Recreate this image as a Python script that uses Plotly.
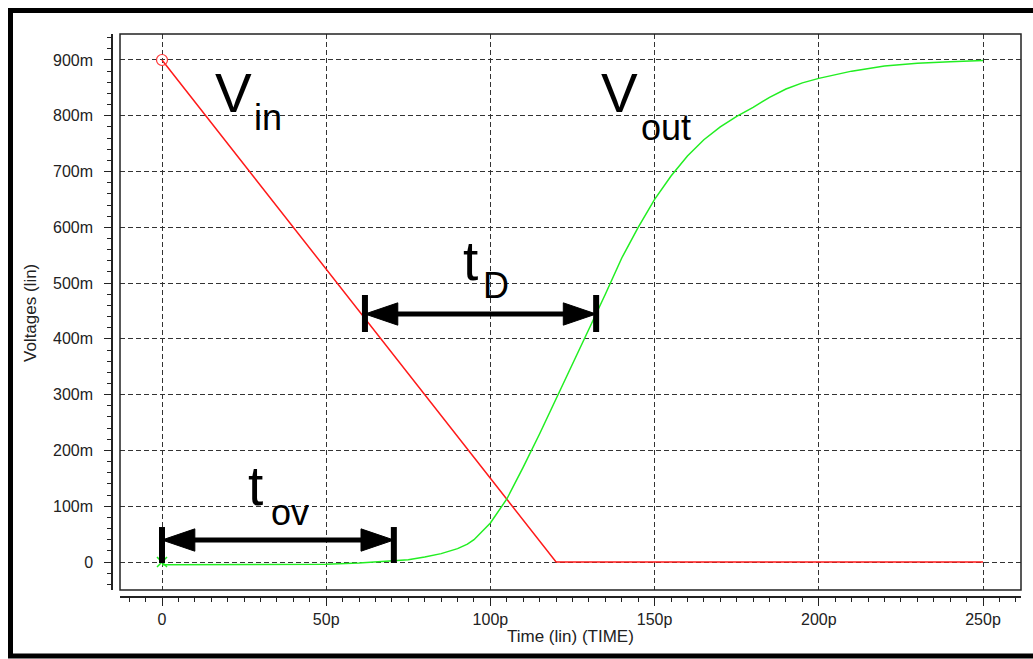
import plotly.graph_objects as go

# ---------------- data (time in ps, voltage in mV) ----------------
vin_t = [0, 120, 250]
vin_v = [900, 0, 0]

vout_t = [0, 10, 20, 30, 40, 50, 60, 66, 70, 75, 80, 85, 90, 93, 95, 100, 105, 110, 115,
          120, 125, 130, 135, 140, 145, 150, 155, 160, 165, 170, 175, 180, 185, 190, 195, 200,
          210, 220, 230, 240, 250]
vout_v = [-5, -5, -5, -5, -5, -4, -2, 0, 1, 4, 9, 15, 24, 32, 40, 70, 113, 170, 230,
          292, 355, 415, 480, 545, 600, 650, 692, 728, 757, 780, 799, 815, 833, 848, 859, 867,
          880, 889, 894, 897, 899]

x_tick_vals = [0, 50, 100, 150, 200, 250]
x_tick_text = ["0", "50p", "100p", "150p", "200p", "250p"]
y_tick_vals = [0, 100, 200, 300, 400, 500, 600, 700, 800, 900]
y_tick_text = ["0", "100m", "200m", "300m", "400m", "500m", "600m", "700m", "800m", "900m"]

# dimension arrows: span (ps), level (mV), end-bar extent (mV)
td_span = [61.8, 132.2]
td_level = 444.6
td_bar = [412.3, 478.7]
tov_span = [0.0, 70.6]
tov_level = 39.4
tov_bar = [-1.8, 62.7]

# ---------------- layout geometry ----------------
W, H = 1033, 659
ML, MR, MT, MB = 112, 12, 34, 62
PW = W - ML - MR
PH = H - MT - MB
PLOT_LEFT_PX = 120
PLOT_BOTTOM_PX = 590

def px_x(px):
    return (px - ML) / PW

def px_y(py):
    return (H - MB - py) / PH

FONT = "Liberation Sans, Arial, sans-serif"
GRID = "#333333"

fig = go.Figure()

fig.add_trace(go.Scatter(x=vin_t, y=vin_v, mode="lines",
                         line=dict(color="#ff1a1a", width=1.5), showlegend=False))
fig.add_trace(go.Scatter(x=vout_t, y=vout_v, mode="lines",
                         line=dict(color="#22ee22", width=1.5),
                         showlegend=False))
fig.add_trace(go.Scatter(x=[vin_t[0]], y=[vin_v[0]], mode="markers",
                         marker=dict(symbol="circle-open", size=11, color="#ff3333",
                                     line=dict(color="#ff3333", width=1.2)),
                         showlegend=False))
fig.add_trace(go.Scatter(x=[vout_t[0]], y=[vout_v[0] + 5], mode="markers",
                         marker=dict(symbol="x-thin-open", size=10, color="#22ee22",
                                     line=dict(color="#22ee22", width=1.5)),
                         showlegend=False))

shapes = []
# plot frame
shapes.append(dict(type="rect", xref="x domain", yref="y domain", x0=0, x1=1, y0=0, y1=1,
                   line=dict(color="#222222", width=1.5), layer="above"))
# outer thick border
shapes.append(dict(type="rect", xref="paper", yref="paper",
                   x0=px_x(10.5), x1=px_x(1040), y0=px_y(656), y1=px_y(10.5),
                   line=dict(color="black", width=5), layer="above"))

HEAD_L = 10.0   # ps
HEAD_H = 20.0   # mV

def add_dim_arrow(span, level, bar):
    a, b = span
    shapes.append(dict(type="line", xref="x", yref="y", x0=a + HEAD_L * 0.6, x1=b - HEAD_L * 0.6,
                       y0=level, y1=level, line=dict(color="black", width=5), layer="above"))
    for xb in (a, b):
        shapes.append(dict(type="line", xref="x", yref="y", x0=xb, x1=xb, y0=bar[0], y1=bar[1],
                           line=dict(color="black", width=6), layer="above"))
    shapes.append(dict(type="path", xref="x", yref="y",
                       path=f"M {a} {level} L {a + HEAD_L} {level + HEAD_H} L {a + HEAD_L} {level - HEAD_H} Z",
                       fillcolor="black", line=dict(color="black", width=1), layer="above"))
    shapes.append(dict(type="path", xref="x", yref="y",
                       path=f"M {b} {level} L {b - HEAD_L} {level + HEAD_H} L {b - HEAD_L} {level - HEAD_H} Z",
                       fillcolor="black", line=dict(color="black", width=1), layer="above"))

add_dim_arrow(td_span, td_level, td_bar)
add_dim_arrow(tov_span, tov_level, tov_bar)

BIG = 55
SUB = 36
labels = [
    ("V", 21.77, 840.8, BIG, "center"),
    ("in", 27.41, 796.9, SUB, "left"),
    ("V", 139.31, 840.8, BIG, "center"),
    ("out", 145.25, 779.0, SUB, "left"),
    ("t", 94.09, 539.6, BIG, "center"),
    ("D", 97.14, 495.7, SUB, "left"),
    ("t", 28.62, 136.2, BIG, "center"),
    ("ov", 32.58, 88.7, SUB, "left"),
]
annotations = []
for txt, x, y, sz, xa in labels:
    annotations.append(dict(text=txt, x=x, y=y, xref="x", yref="y", showarrow=False,
                            xanchor=xa, yanchor="middle",
                            font=dict(family=FONT, size=sz, color="black")))

annotations.append(dict(text="Time (lin) (TIME)", xref="paper", yref="paper",
                        x=px_x(570), y=px_y(636), showarrow=False,
                        xanchor="center", yanchor="middle",
                        font=dict(family=FONT, size=17, color="#222222")))
annotations.append(dict(text="Voltages (lin)", xref="paper", yref="paper",
                        x=px_x(30), y=px_y(313), showarrow=False, textangle=-90,
                        xanchor="center", yanchor="middle",
                        font=dict(family=FONT, size=17, color="#222222")))

x0_px, x_scale = 162.0, 3.284
y0_px, y_scale = 562.0, 0.5578

fig.update_layout(
    width=W, height=H,
    margin=dict(l=ML, r=MR, t=MT, b=MB, pad=0),
    paper_bgcolor="white", plot_bgcolor="white",
    shapes=shapes, annotations=annotations,
    xaxis=dict(
        domain=[px_x(PLOT_LEFT_PX), 1], anchor="free", position=0,
        range=[(PLOT_LEFT_PX - x0_px) / x_scale, (ML + PW - x0_px) / x_scale],
        tickmode="array", tickvals=x_tick_vals, ticktext=x_tick_text,
        showline=True, linecolor="#222222", linewidth=1.5,
        ticks="outside", ticklen=8, tickwidth=1.2, tickcolor="#222222",
        minor=dict(dtick=5, tick0=0, ticks="outside", ticklen=4, tickwidth=1, tickcolor="#222222",
                   showgrid=False),
        showgrid=True, gridcolor=GRID, gridwidth=1.2, griddash="5px,3px",
        zeroline=False,
        tickfont=dict(family=FONT, size=16, color="#222222"),
    ),
    yaxis=dict(
        domain=[px_y(PLOT_BOTTOM_PX), 1], anchor="free", position=0,
        range=[(y0_px - PLOT_BOTTOM_PX) / y_scale, (y0_px - MT) / y_scale],
        tickmode="array", tickvals=y_tick_vals, ticktext=y_tick_text,
        showline=True, linecolor="#222222", linewidth=1.5,
        ticks="outside", ticklen=7, tickwidth=1.2, tickcolor="#222222",
        minor=dict(dtick=20, tick0=0, ticks="outside", ticklen=4, tickwidth=1, tickcolor="#222222",
                   showgrid=False),
        showgrid=True, gridcolor=GRID, gridwidth=1.2, griddash="5px,3px",
        zeroline=False, ticklabelstandoff=8,
        tickfont=dict(family=FONT, size=16, color="#222222"),
    ),
)

fig.write_html("out.html")
